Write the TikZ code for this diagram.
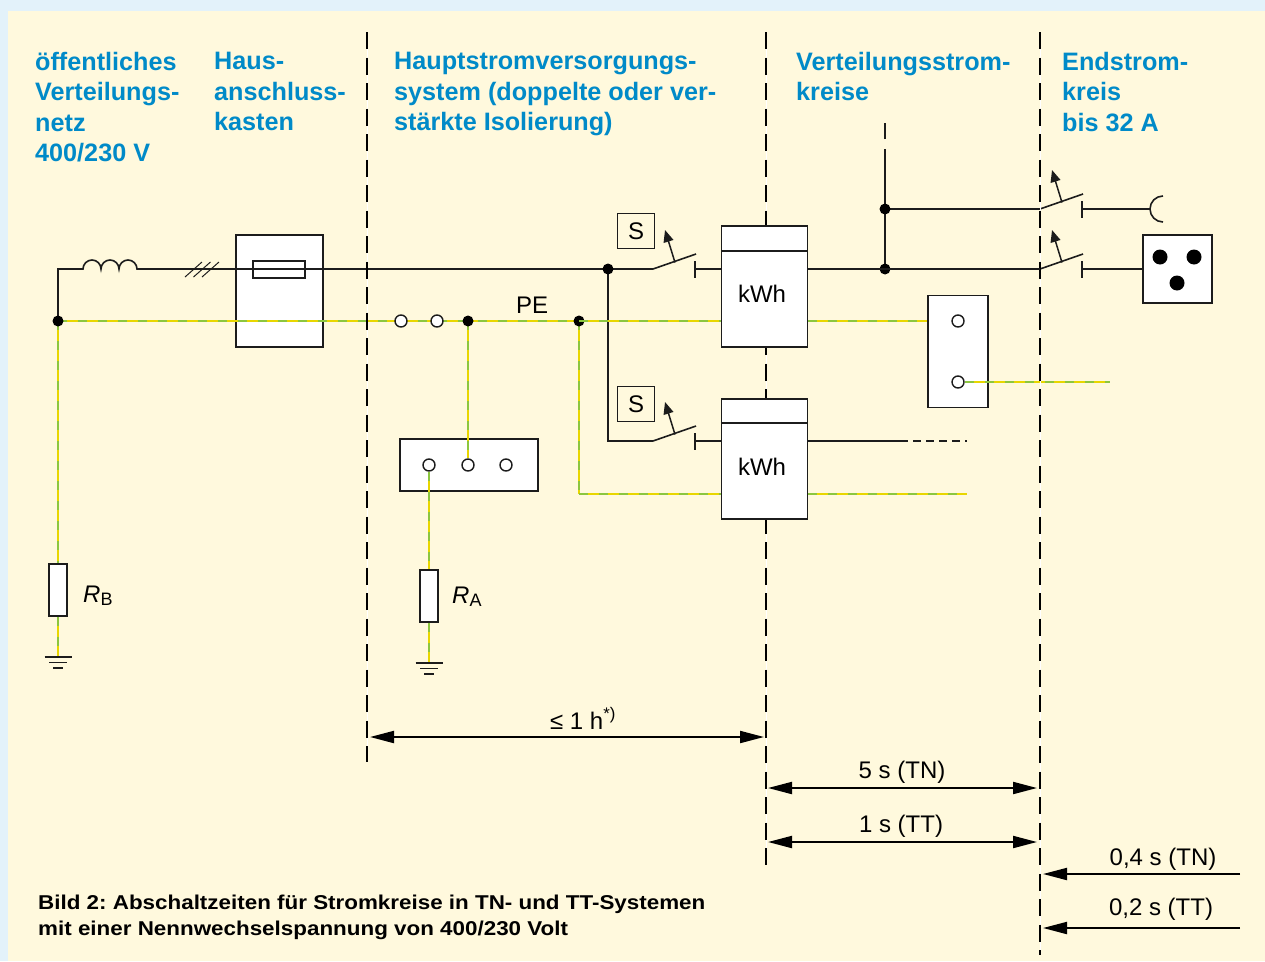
\documentclass[tikz,border=0pt]{standalone}
\usepackage{fontspec}
\setmainfont{Liberation Sans}
\newfontfamily\capfont[FakeStretch=1.12]{Liberation Sans}
\usetikzlibrary{arrows.meta}
\definecolor{framebg}{RGB}{227,242,250}
\definecolor{paper}{RGB}{255,249,221}
\definecolor{headblue}{RGB}{0,138,200}
\definecolor{peyellow}{RGB}{232,214,0}
\definecolor{pegreen}{RGB}{140,198,63}
\definecolor{wirecol}{RGB}{28,28,28}
\newcommand\headfont{\bfseries\fontsize{25.2}{30.5}\selectfont}
\newcommand\labfont{\fontsize{24}{28}\selectfont}
\newcommand\resname[1]{\textit{R}\raisebox{-0.3ex}{\fontsize{18}{18}\selectfont #1}}
\tikzset{
    x=1pt, y=-1pt, % same grid as the scanned figure, y runs down
    wire/.style={draw=wirecol, line width=1.6pt}, % phase conductor
    pe/.style={draw=peyellow, line width=2.2pt,
        postaction={draw=pegreen, line width=2.2pt, dash pattern=on 9pt off 11pt}}, % green-yellow PE
    sep/.style={draw=black, line width=2.8pt, dash pattern=on 17pt off 8.5pt}, % zone borders
    unit/.style={draw=wirecol, fill=white, line width=1.5pt, inner sep=0pt}, % boxes
    dot/.style={circle, fill=black, inner sep=0pt, minimum size=11pt},
    term/.style={circle, draw=wirecol, fill=white, line width=1.4pt, inner sep=0pt, minimum size=12pt},
    pin/.style={circle, fill=black, inner sep=0pt, minimum size=15pt}, % socket contacts
    sbox/.style={draw=wirecol, line width=1.3pt, minimum width=37pt, minimum height=35pt, inner sep=0pt, font=\labfont},
    head/.style={text=headblue, font=\headfont, align=left, inner sep=0pt, anchor=north west},
    lab/.style={font=\labfont, inner sep=0pt},
    span/.style={{Triangle[length=24pt,width=12pt]}-{Triangle[length=24pt,width=12pt]}, line width=2pt},
    oneway/.style={-{Triangle[length=24pt,width=12pt]}, line width=2pt},
}

\begin{document}
\begin{tikzpicture}
    \useasboundingbox (0,0) rectangle (1265,961);
    \fill[framebg] (0,0) rectangle (1265,961);
    \fill[paper] (8,11) rectangle (1265,961);

    % boxes
    \node[unit, minimum width=87pt, minimum height=112pt] (hak) at (279.5,291) {};
    \node[unit, minimum width=52pt, minimum height=17pt] (fuse) at (279,269.5) {};
    \node[unit, minimum width=138pt, minimum height=52pt] (rail) at (469,465) {};
    \node[unit, minimum width=60pt, minimum height=112pt] (pebox) at (958,351.5) {};
    \node[unit, minimum width=69pt, minimum height=68pt] (sock) at (1177.5,269) {};
    \node[unit, minimum width=18pt, minimum height=52pt] (RB) at (58,590) {};
    \node[unit, minimum width=18pt, minimum height=52pt] (RA) at (429,596) {};

    \coordinate (nstar) at (58,321);
    \coordinate (ncorner) at (58,269);
    \coordinate (coilL) at (83,269);
    \coordinate (jL) at (608,269);
    \coordinate (jLlow) at (608,441);
    \coordinate (s1-in) at (653,269);
    \coordinate (s1-out) at (695,269);
    \coordinate (s2-in) at (653,441);
    \coordinate (s2-out) at (695,441);
    \coordinate (s3-in) at (1040,209);
    \coordinate (s3-out) at (1082,209);
    \coordinate (s4-in) at (1040,269);
    \coordinate (s4-out) at (1082,269);
    \coordinate (jV) at (885,269);
    \coordinate (jVtop) at (885,209);
    \coordinate (stubA) at (885,149);
    \coordinate (stubB) at (885,139);
    \coordinate (stubC) at (885,123);
    \coordinate (cup) at (1150,209);
    \coordinate (outL) at (900,441);
    \coordinate (outLend) at (967,441);
    \coordinate (peA) at (468,321);
    \coordinate (peB) at (579,321);
    \coordinate (peC) at (579,494);
    \coordinate (peEnd) at (1110,382);
    \coordinate (peEnd2) at (967,494);
    \coordinate (gA) at (429,663);
    \coordinate (gB) at (58,657);

    % phase conductor
    \draw[wire] (nstar) -- (ncorner) -- (coilL)
        arc[start angle=180, end angle=360, radius=9]
        arc[start angle=180, end angle=360, radius=9]
        arc[start angle=180, end angle=360, radius=9] -- (jL) -- (s1-in);
    \foreach \dx in {0,8.5,17}
        \draw[wirecol, line width=1pt] (185+\dx,277) -- ++(17,-15);
    \draw[wire] (jL) -- (jLlow) -- (s2-in);
    \draw[wire] (jVtop) -- (s3-in);
    \draw[wire] (jV) -- (jVtop) -- (stubA) (stubB) -- (stubC);
    \draw[wire] (s3-out) -- (cup);
    \draw[wire] (cup) ++(13,-13) arc[start angle=270, end angle=90, radius=13];
    \draw[wire] (s4-out) -- (sock);
    \draw[wire, dash pattern=on 8pt off 5pt] (outL) -- (outLend);

    % protective conductor
    \draw[pe] (nstar) -- (RB);
    \draw[pe] (RB) -- (gB);
    \draw[pe] (nstar) -- (peB);
    \draw[pe] (peB) -- (peC);

    \node[term] (pe1) at (401,321) {};
    \node[term] (pe2) at (437,321) {};
    \node[term] (r1) at (429,465) {};
    \node[term] (r2) at (468,465) {};
    \node[term] (r3) at (506,465) {};
    \node[term] (pb1) at (958,321) {};
    \node[term] (pb2) at (958,382) {};
    \draw[pe] (peA) -- (r2);
    \draw[pe] (r1) -- (RA);
    \draw[pe] (RA) -- (gA);
    \draw[pe] (pb2) -- (peEnd);
    \node[dot] at (nstar) {};
    \node[dot] at (peA) {};
    \node[dot] at (peB) {};
    \node[dot] at (jL) {};
    \node[dot] at (jV) {};
    \node[dot] at (jVtop) {};
    \node[pin] at (1160,257) {};
    \node[pin] at (1194,257) {};
    \node[pin] at (1177,283) {};

    % earth electrodes
    \foreach \g in {gA,gB} {
        \draw[wirecol, line width=1.3pt] ([xshift=-13.5pt]\g) -- ([xshift=13.5pt]\g);
        \draw[wirecol, line width=1.3pt] ([xshift=-9pt,yshift=-5.5pt]\g) -- ([xshift=9pt,yshift=-5.5pt]\g);
        \draw[wirecol, line width=1.3pt] ([xshift=-5pt,yshift=-11pt]\g) -- ([xshift=5pt,yshift=-11pt]\g);
    }

    % switches
    \foreach \sw in {s1,s2,s3,s4} {
        \draw[wire] (\sw-in) -- ([xshift=1pt,yshift=15pt]\sw-out);
        \draw[wire] ([yshift=8pt]\sw-out) -- ([yshift=-9pt]\sw-out);
        \draw[wirecol, line width=1.5pt, -{Triangle[length=12pt,width=10pt]}]
            ([xshift=22pt,yshift=6.5pt]\sw-in) -- ([xshift=12pt,yshift=39pt]\sw-in);
    }
    \node[sbox] (S1) at (636,231) {S};
    \node[sbox] (S2) at (636,404) {S};

    % zone borders
    \foreach \bx/\by in {367/762, 766/865, 1040/955} {
        \draw[white, line width=1pt] (\bx,32) -- (\bx,\by);
        \draw[sep] (\bx,32) -- (\bx,\by);
    }

    % meters
    \node[unit, minimum width=86pt, minimum height=121pt] (m1) at (764.5,286.5) {};
    \node[unit, minimum width=86pt, minimum height=120pt] (m2) at (764.5,459) {};
    \draw[wire] ([yshift=-26pt]m1.north west) -- ([yshift=-26pt]m1.north east);
    \draw[wire] ([yshift=-25pt]m2.north west) -- ([yshift=-25pt]m2.north east);
    \node[lab] (kwh1) at (762,294) {kWh};
    \node[lab] (kwh2) at (762,467) {kWh};
    \draw[wire] (s1-out) -- (s1-out -| m1.west);
    \draw[wire] (s2-out) -- (s2-out -| m2.west);
    \draw[wire] (m1.east |- jV) -- (s4-in);
    \draw[wire] (m2.east |- outL) -- (outL);
    \draw[pe] (peB) -- (peB -| m1.west);
    \draw[pe] (m1.east |- peA) -- (pebox.west |- peA);
    \draw[pe] (peC) -- (peC -| m2.west);
    \draw[pe] (m2.east |- peC) -- (peEnd2);

    % texts
    \node[head] (tnet) at (35,52) {öffentliches\\Verteilungs-\\netz\\400/230 V};
    \node[head] (thak) at (214,52) {Haus-\\anschluss-\\kasten};
    \node[head] (tmain) at (394,52) {Hauptstromversorgungs-\\system (doppelte oder ver-\\stärkte Isolierung)};
    \node[head] (tdist) at (796,52) {Verteilungsstrom-\\kreise};
    \node[head] (tend) at (1062,52) {Endstrom-\\kreis\\bis 32 A};
    \node[lab] (tpe) at (532,305) {PE};
    \node[lab, anchor=base west] (tRB) at (83,602) {\resname{B}};
    \node[lab, anchor=base west] (tRA) at (452,603) {\resname{A}};

    % disconnection times
    \draw[span] (370,737) -- (764,737);
    \draw[span] (768,788) -- (1037,788);
    \draw[span] (768,842) -- (1037,842);
    \draw[oneway] (1240,874) -- (1043,874);
    \draw[oneway] (1240,928) -- (1043,928);
    \node[lab, anchor=base] (t1h) at (583,729) {≤ 1 h\textsuperscript{*)}};
    \node[lab, anchor=base] (t5s) at (902,778) {5 s (TN)};
    \node[lab, anchor=base] (t1s) at (901,832) {1 s (TT)};
    \node[lab, anchor=base] (t04) at (1163,865) {0,4 s (TN)};
    \node[lab, anchor=base] (t02) at (1161,915) {0,2 s (TT)};

    \node[anchor=north west, align=left, inner sep=0pt,
        font=\capfont\bfseries\fontsize{20}{26}\selectfont\frenchspacing] (caption) at (38,895)
        {Bild 2: Abschaltzeiten für Stromkreise in TN- und TT-Systemen\\mit einer Nennwechselspannung von 400/230 Volt};
\end{tikzpicture}
\end{document}
